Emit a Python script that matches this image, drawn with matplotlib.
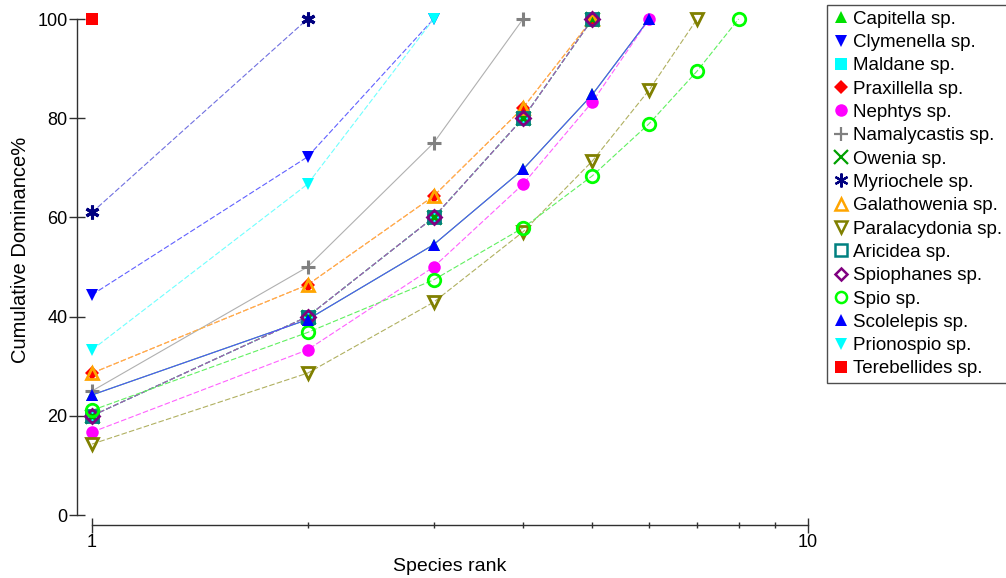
import matplotlib.pyplot as plt
import numpy as np
from matplotlib.lines import Line2D

plt.rcParams['font.family'] = ['Liberation Sans', 'DejaVu Sans']

# cumulative dominance curves, one per species
names = ["Capitella sp.", "Clymenella sp.", "Maldane sp.", "Praxillella sp.", "Nephtys sp.",
         "Namalycastis sp.", "Owenia sp.", "Myriochele sp.", "Galathowenia sp.", "Paralacydonia sp.",
         "Aricidea sp.", "Spiophanes sp.", "Spio sp.", "Scolelepis sp.", "Prionospio sp.",
         "Terebellides sp."]

capitella = [24.2, 39.4, 54.5, 69.7, 84.8, 100]
clymenella = [44.4, 72.2, 100]
maldane = [20, 40, 60, 80, 100]
praxillella = [28.6, 46.4, 64.3, 82.1, 100]
nephtys = [16.7, 33.3, 50.0, 66.7, 83.3, 100]
namalycastis = [25, 50, 75, 100]
owenia = [20, 40, 60, 80, 100]
myriochele = [61.0, 100]
galathowenia = [28.6, 46.4, 64.3, 82.1, 100]
paralacydonia = [14.3, 28.6, 42.9, 57.1, 71.4, 85.7, 100]
aricidea = [20, 40, 60, 80, 100]
spiophanes = [20, 40, 60, 80, 100]
spio = [21.1, 36.8, 47.4, 57.9, 68.4, 78.9, 89.5, 100]
scolelepis = [24.2, 39.4, 54.5, 69.7, 84.8, 100]
prionospio = [33.3, 66.7, 100]
terebellides = [100]

series = [capitella, clymenella, maldane, praxillella, nephtys, namalycastis, owenia, myriochele,
          galathowenia, paralacydonia, aricidea, spiophanes, spio, scolelepis, prionospio, terebellides]

# (marker, colour, filled, line colour, linestyle)
styles = [
    ('^', '#00e000', True, '#40e040', 'solid'),
    ('v', '#0000ff', True, '#6060ff', 'dashed'),
    ('s', '#00ffff', True, '#50f0f0', 'dashed'),
    ('D', '#ff0000', True, '#ff8080', 'dashed'),
    ('o', '#ff00ff', True, '#ff60ff', 'dashed'),
    ('+', '#808080', True, '#b0b0b0', 'solid'),
    ('x', '#00a000', True, '#50d050', 'dashed'),
    ((6, 2, 0), '#000080', True, '#7070e0', 'dashed'),
    ('^', '#ffa500', False, '#ffb840', 'dashed'),
    ('v', '#808000', False, '#b0b060', 'dashed'),
    ('s', '#008080', False, '#50c0c0', 'dashed'),
    ('D', '#800080', False, '#b050b0', 'dashed'),
    ('o', '#00ff00', False, '#60f060', 'dashed'),
    ('^', '#0000ff', True, '#5050ff', 'solid'),
    ('v', '#00ffff', True, '#70ffff', 'dashed'),
    ('s', '#ff0000', True, '#ff0000', 'solid'),
]

fig = plt.figure(figsize=(10.06, 5.78), dpi=100)
ax = fig.add_axes([92/1006, 63/578, 716/1006, 496/578])

handles = []
for vals, (mk, col, filled, lcol, ls) in zip(series, styles):
    ranks = np.arange(1, len(vals) + 1)
    ax.plot(ranks, vals, color=lcol, lw=0.8, linestyle=ls, dashes=(5, 2) if ls == 'dashed' else (None, None),
            clip_on=False, zorder=2)
    ms = 9 if mk != 'D' else 7
    if mk in ('+', 'x', (6, 2, 0)):
        ax.plot(ranks, vals, linestyle='none', marker=mk, color=col, ms=10, mew=2.2, clip_on=False, zorder=3)
        h = Line2D([], [], linestyle='none', marker=mk, color=col, ms=10, mew=1.6)
    elif filled:
        ax.plot(ranks, vals, linestyle='none', marker=mk, color=col, ms=ms, mew=0, clip_on=False, zorder=3)
        h = Line2D([], [], linestyle='none', marker=mk, color=col, ms=ms, mew=0)
    else:
        ax.plot(ranks, vals, linestyle='none', marker=mk, mfc='none', mec=col, ms=ms, mew=2, clip_on=False, zorder=3)
        h = Line2D([], [], linestyle='none', marker=mk, mfc='none', mec=col, ms=ms - 1, mew=1.8)
    handles.append(h)

ax.set_xscale('log')
ax.set_xlim(1, 10)
ax.set_ylim(0, 100)
ax.spines['top'].set_visible(False)
ax.spines['right'].set_visible(False)
ax.spines['left'].set_position(('outward', 10.8))
ax.spines['bottom'].set_position(('outward', 7.2))
for s in ('left', 'bottom'):
    ax.spines[s].set_color('#303030')
    ax.spines[s].set_linewidth(1)

ax.set_yticks([0, 20, 40, 60, 80, 100])
ax.set_xticks([1, 10])
ax.set_xticklabels(['1', '10'])
ax.set_xticks([2, 3, 4, 5, 6, 7, 8, 9], minor=True)
ax.xaxis.set_minor_formatter(plt.NullFormatter())
ax.tick_params(axis='y', direction='inout', length=11.5, width=1, color='#303030', labelsize=13, pad=1)
ax.tick_params(axis='x', which='major', direction='inout', length=10.8, width=1, color='#303030', labelsize=13, pad=1)
ax.tick_params(axis='x', which='minor', direction='inout', length=5, width=1, color='#303030')

ax.set_xlabel('Species rank', fontsize=14)
ax.set_ylabel('Cumulative Dominance%', fontsize=14.5)
ax.xaxis.set_label_coords(0.5, -0.087)
ax.yaxis.set_label_coords(-0.087, 0.534)

leg = fig.legend(handles, names, loc='upper left', bbox_to_anchor=(827/1006, 1 - 5/578),
                 borderaxespad=0, frameon=True, fancybox=False, fontsize=13.5, labelspacing=0.33,
                 handlelength=0.9, handletextpad=0.2, borderpad=0.3)
leg.get_frame().set_edgecolor('#202020')
leg.get_frame().set_linewidth(1)

fig.savefig('out.png', dpi=100)
